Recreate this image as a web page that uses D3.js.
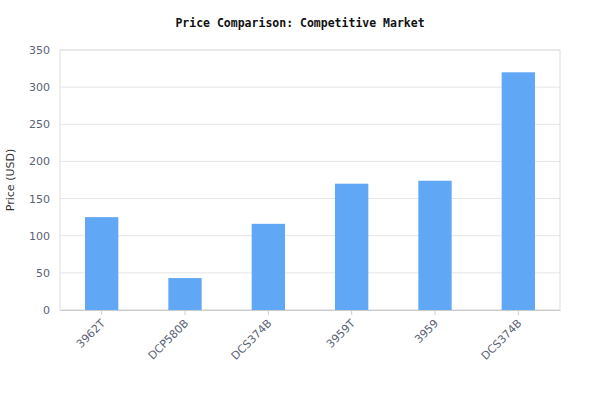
<!DOCTYPE html>
<html><head><meta charset="utf-8">
<script src="https://cdn.jsdelivr.net/npm/d3@7/dist/d3.min.js"></script>
<style>body{margin:0;background:#fff}</style></head>
<body><svg id="c" width="600" height="420"></svg>
<script>
const categories = ["3962T","DCP580B","DCS374B","3959T","3959","DCS374B "];
const prices = [125, 43, 116, 170, 174, 320];
const yTicks = [0,50,100,150,200,250,300,350];

const svg = d3.select("#c");
const m = {l:60, r:40, t:50, b:110};
const W = 600, H = 420;
const x = d3.scaleBand().domain(categories).range([m.l, W-m.r]).paddingInner(0.6).paddingOuter(0.3);
const y = d3.scaleLinear().domain([0,350]).range([H-m.b, m.t]);

svg.append("g").selectAll("line").data(yTicks).join("line")
  .attr("x1", m.l).attr("x2", W-m.r).attr("y1", d=>y(d)).attr("y2", d=>y(d))
  .attr("stroke", "#e5e5e5");
svg.append("rect").attr("x", m.l).attr("y", m.t).attr("width", W-m.l-m.r).attr("height", H-m.t-m.b)
  .attr("fill","none").attr("stroke","#ddd");

svg.append("g").selectAll("rect").data(prices).join("rect")
  .attr("x", (d,i)=>x(categories[i])).attr("width", x.bandwidth())
  .attr("y", d=>y(d)).attr("height", d=>y(0)-y(d)).attr("fill", "#60a8f5");

const ya = svg.append("g").attr("transform",`translate(${m.l},0)`)
  .call(d3.axisLeft(y).tickValues(yTicks).tickSize(0).tickPadding(10));
ya.select(".domain").remove();
ya.selectAll("text").attr("fill","#5a6275").style("font-family","DejaVu Sans").style("font-size","11px");

const xa = svg.append("g").attr("transform",`translate(0,${H-m.b})`)
  .call(d3.axisBottom(x).tickSize(5).tickSizeOuter(0));
xa.select(".domain").attr("stroke","#ccc");
xa.selectAll("line").attr("stroke","#ccc");
xa.selectAll("text").attr("fill","#5a6275").style("font-family","DejaVu Sans").style("font-size","11px")
  .attr("text-anchor","end").attr("x",0).attr("y",0).attr("dy","0")
  .attr("transform","translate(4,14) rotate(-45)");

svg.append("text").attr("x", 300).attr("y", 27).attr("text-anchor","middle")
  .style("font-family","DejaVu Sans Mono").style("font-weight","bold").style("font-size","11.5px")
  .attr("fill","#111").text("Price Comparison: Competitive Market");
svg.append("text").attr("transform","translate(14,180) rotate(-90)").attr("text-anchor","middle")
  .style("font-family","DejaVu Sans").style("font-size","11px").attr("fill","#333").text("Price (USD)");
</script></body></html>
